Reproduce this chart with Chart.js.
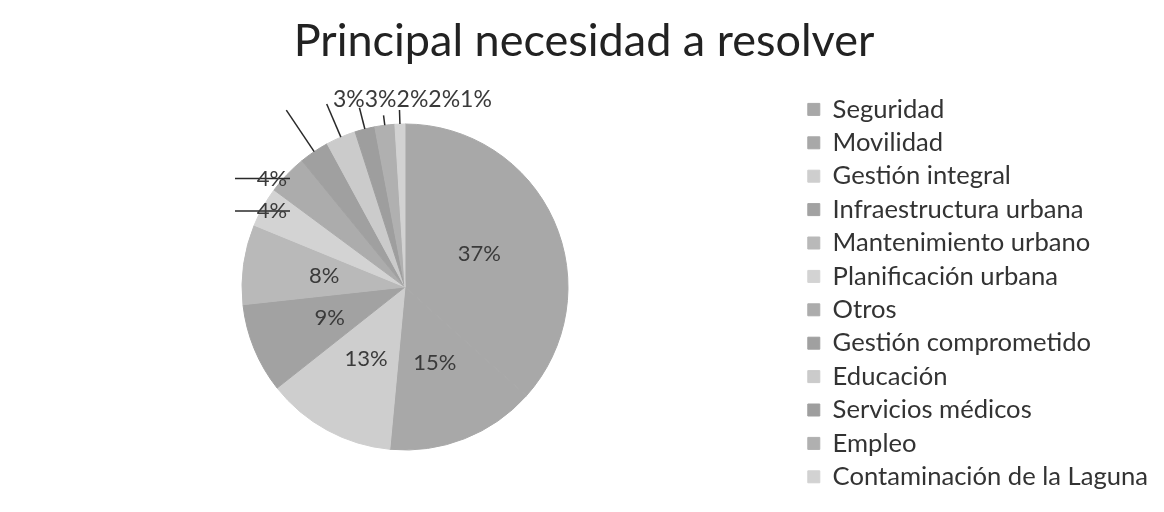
<!DOCTYPE html>
<html>
<head>
<meta charset="utf-8">
<script src="https://cdn.jsdelivr.net/npm/chart.js@4.4.0/dist/chart.umd.min.js"></script>
<style>
  body { margin: 0; background: #ffffff; }
  #wrap { width: 1164px; height: 512px; }
</style>
</head>
<body>
<div id="wrap"><canvas id="pieChart" width="1164" height="512"></canvas></div>
<script>
// Categories and values
const categories = [
  'Seguridad', 'Movilidad', 'Gestión integral', 'Infraestructura urbana',
  'Mantenimiento urbano', 'Planificación urbana', 'Otros', 'Gestión comprometido',
  'Educación', 'Servicios médicos', 'Empleo', 'Contaminación de la Laguna'
];
const percentages = [37, 15, 13, 9, 8, 4, 4, 3, 3, 2, 2, 1];
const sliceColors = [
  '#a8a8a8', '#a8a8a8', '#cecece', '#a2a2a2',
  '#b9b9b9', '#d3d3d3', '#acacac', '#a0a0a0',
  '#cbcbcb', '#9e9e9e', '#b0b0b0', '#d2d2d2'
];

const FONT = 'Lato, "Open Sans", sans-serif';

// Draws the percentage labels the way the original spreadsheet placed them
const pieLabels = {
  id: 'pieLabels',
  afterDatasetsDraw(chart) {
    const ctx = chart.ctx;
    const arcs = chart.getDatasetMeta(0).data;
    const values = chart.data.datasets[0].data;
    ctx.save();
    ctx.fillStyle = '#3a3a3a';
    ctx.strokeStyle = '#2a2a2a';
    ctx.lineWidth = 1.5;
    ctx.textBaseline = 'middle';

    const first = arcs[0].getProps(['x', 'y', 'outerRadius'], true);
    const cx = first.x, cy = first.y, r = first.outerRadius;

    // top row of small labels, laid out side by side
    let rowX = cx - 72;
    const rowY = cy - r - 24;
    const leader = [50, 36, 22, 10, 14];

    arcs.forEach((arc, i) => {
      const p = arc.getProps(['startAngle', 'endAngle'], true);
      const mid = (p.startAngle + p.endAngle) / 2;
      const ex = cx + Math.cos(mid) * r;
      const ey = cy + Math.sin(mid) * r;
      const text = values[i] + '%';

      if (i < 5) {
        const c = arc.getCenterPoint();
        ctx.font = '22px ' + FONT;
        ctx.textAlign = 'center';
        ctx.fillText(text, c.x, c.y);
      } else if (i < 7) {
        ctx.beginPath();
        ctx.moveTo(cx - 170, ey + 4);
        ctx.lineTo(cx - 115, ey + 4);
        ctx.stroke();
        ctx.font = '22px ' + FONT;
        ctx.textAlign = 'center';
        ctx.fillText(text, cx - 133, ey + 4);
      } else {
        const len = leader[i - 7];
        ctx.beginPath();
        ctx.moveTo(ex, ey);
        ctx.lineTo(ex + Math.cos(mid) * len, ey + Math.sin(mid) * len);
        ctx.stroke();
        ctx.font = '23px ' + FONT;
        ctx.textAlign = 'left';
        ctx.fillText(text, rowX, rowY);
        rowX += ctx.measureText(text).width;
      }
    });
    ctx.restore();
  }
};

new Chart(document.getElementById('pieChart'), {
  type: 'pie',
  data: {
    labels: categories,
    datasets: [{
      data: percentages,
      backgroundColor: sliceColors,
      borderColor: sliceColors,
      borderWidth: 1
    }]
  },
  options: {
    responsive: false,
    animation: false,
    radius: 163,
    layout: { padding: { left: 10, right: 6, top: 0, bottom: 8 } },
    plugins: {
      title: {
        display: true,
        text: 'Principal necesidad a resolver',
        color: '#222222',
        font: { family: FONT, size: 45, weight: 'normal' },
        padding: { top: 14, bottom: 2 }
      },
      legend: {
        position: 'right',
        fullSize: false,
        title: { display: true, text: ' ', font: { size: 1 }, padding: { top: 11, bottom: 0 } },
        labels: {
          boxWidth: 12,
          boxHeight: 12,
          padding: 7.8,
          color: '#333333',
          font: { family: FONT, size: 25.6 }
        }
      },
      tooltip: { enabled: false }
    }
  },
  plugins: [pieLabels]
});
</script>
</body>
</html>
